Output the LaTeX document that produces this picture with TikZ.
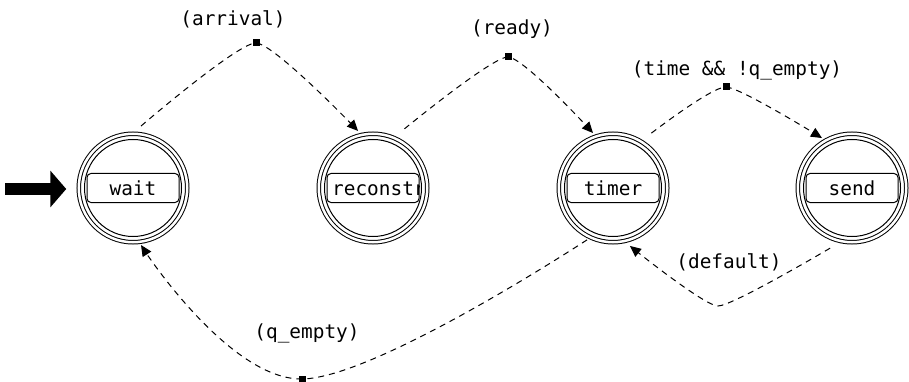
\documentclass[tikz,border=0pt]{standalone}
\usepackage{fontspec}
\newfontfamily\pixfont{DejaVu Sans Mono}
\usetikzlibrary{arrows.meta,calc}

\tikzset{
  lbl/.style={font=\pixfont\fontsize{19.4}{22}\selectfont, inner sep=0pt, anchor=base},
  state/.style={circle, draw, double, double distance=2.5pt, line width=1pt,
    minimum size=108.5pt, inner sep=0pt, outer sep=0pt},
  innerring/.style={draw, line width=1pt},
  namebox/.style={rectangle, draw, line width=1pt, rounded corners=4pt,
    minimum width=92pt, minimum height=29pt, inner sep=0pt, outer sep=0pt,
    font=\pixfont\fontsize{19.4}{22}\selectfont, text height=14pt, text depth=0pt},
  handle/.style={rectangle, fill=black, minimum size=7pt, inner sep=0pt},
  edge/.style={line width=1pt, dash pattern=on 6pt off 5pt,
    -{Triangle[length=11pt 0, width=10pt 0]}},
  initarrow/.style={line width=12pt, -{Triangle[length=16pt 0, width=36pt 0]}},
}

\begin{document}
\begin{tikzpicture}[x=1pt,y=-1pt]
  \fill[white] (0,0) rectangle (909,382);
  \useasboundingbox (0,0) rectangle (909,382);

  % states: double outer ring plus a single inner ring
  \node[state] (wait) at (133,188) {};
  \node[state] (reconst) at (373,188) {};
  \node[state] (timer) at (613,188) {};
  \node[state] (send) at (852,188) {};
  \foreach \s in {wait,reconst,timer,send}
    \draw[innerring] (\s.center) circle[radius=48.5pt];

  % name boxes
  \node[namebox] (waitbox) at (wait.center) {wait};
  \node[namebox] (reconstbox) at (reconst.center) {};
  \begin{scope}
    \clip (reconstbox.south west) rectangle (reconstbox.north east);
    \node[lbl, anchor=base west] (reconsttext) at (332,195) {reconstruct};
  \end{scope}
  \node[namebox] (timerbox) at (timer.center) {timer};
  \node[namebox] (sendbox) at (send.center) {send};

  % initial-state arrow
  \coordinate (init) at (5,189);
  \draw[initarrow, shorten >=12.5pt] (init) -- (init -| wait.west);

  % transition handles
  \node[handle] (h1) at (256,43) {};
  \node[handle] (h2) at (508,57) {};
  \node[handle] (h3) at (726,87) {};
  \node[handle] (h4) at (302,379) {};
  \coordinate (h5) at (718,306);

  % transition end points
  \coordinate (e1s) at ($(wait.center)+(82.6:62.5pt)$);
  \coordinate (e1e) at ($(reconst.center)+(104.7:59pt)$);
  \coordinate (e2s) at ($(reconst.center)+(62:67pt)$);
  \coordinate (e2e) at ($(timer.center)+(110:58.5pt)$);
  \coordinate (e3s) at ($(timer.center)+(55:67pt)$);
  \coordinate (e3e) at ($(send.center)+(121:58.3pt)$);
  \coordinate (e4s) at ($(timer.center)+(-116.6:58pt)$);
  \coordinate (e4e) at ($(wait.center)+(-82:57.6pt)$);
  \coordinate (e5s) at ($(send.center)+(-110:64pt)$);
  \coordinate (e5e) at ($(timer.center)+(-73.7:60.4pt)$);

  % transitions
  \draw[edge] plot[smooth, tension=0.3] coordinates {(e1s) (h1.center) (e1e)};
  \draw[edge] plot[smooth, tension=0.3] coordinates {(e2s) (h2.center) (e2e)};
  \draw[edge] plot[smooth, tension=0.3] coordinates {(e3s) (h3.center) (e3e)};
  \draw[edge] plot[smooth, tension=0.6] coordinates {(e4s) (h4.center) (e4e)};
  \draw[edge] plot[smooth, tension=0.25] coordinates {(e5s) (h5) (e5e)};
  \node[handle] at (h1) {};
  \node[handle] at (h2) {};
  \node[handle] at (h3) {};
  \node[handle] at (h4) {};

  % transition labels
  \node[lbl] (l1) at (233,26) {(arrival)};
  \node[lbl] (l2) at (512,35) {(ready)};
  \node[lbl] (l3) at (737,76) {(time \&\& !q\_empty)};
  \node[lbl] (l4) at (307,338) {(q\_empty)};
  \node[lbl] (l5) at (729,268) {(default)};
\end{tikzpicture}
\end{document}
